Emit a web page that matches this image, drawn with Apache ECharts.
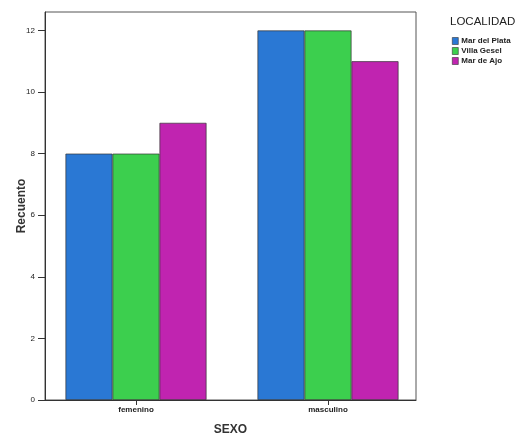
<!DOCTYPE html>
<html><head><meta charset="utf-8">
<script src="https://cdn.jsdelivr.net/npm/echarts@6/dist/echarts.min.js"></script>
<style>html,body{margin:0;padding:0;background:#fff}#c{width:518px;height:437px}</style>
</head><body><div id="c"></div>
<script>
const categories = ['femenino', 'masculino'];
const seriesNames = ['Mar del Plata', 'Villa Gesel', 'Mar de Ajo'];
const marDelPlata = [8, 12];
const villaGesel = [8, 12];
const marDeAjo = [9, 11];
const yTicks = [0, 2, 4, 6, 8, 10, 12];
const colors = ['#2a78d4', '#3ccf4e', '#c024b0'];
const values = [marDelPlata, villaGesel, marDeAjo];

const chart = echarts.init(document.getElementById('c'), null, {renderer: 'canvas'});
const font = 'Liberation Sans, Arial, sans-serif';
chart.setOption({
  animation: false,
  title: {text: 'LOCALIDAD', left: 450, top: 16, padding: 0, textStyle: {fontFamily: font, fontSize: 11.5, fontWeight: 'normal', color: '#222'}},
  legend: {
    orient: 'vertical', left: 452, top: 37, padding: 0, itemWidth: 6, itemHeight: 7, itemGap: 2, icon: 'rect',
    textStyle: {fontFamily: font, fontSize: 8, fontWeight: 'bold', color: '#222', padding: [0,0,0,-2]},
    itemStyle: {borderColor: '#333', borderWidth: 0.6},
    data: seriesNames
  },
  grid: [
    {left: 45, top: 12, right: 102, bottom: 37, show: true, borderColor: '#555', borderWidth: 1, containLabel: false, outerBoundsMode: 'none'},
    {left: 40, top: 12, right: 94, bottom: 37, show: false, containLabel: false, outerBoundsMode: 'none'}
  ],
  xAxis: [
    {
      gridIndex: 0, type: 'value', min: 0, max: 1,
      name: 'SEXO', nameLocation: 'middle', nameGap: 24, nameMoveOverlap: false,
      nameTextStyle: {fontFamily: font, fontSize: 12, fontWeight: 'bold', color: '#333'},
      axisLine: {show: true, onZero: false, lineStyle: {color: '#333'}},
      axisTick: {show: false}, axisLabel: {show: false}, splitLine: {show: false}
    },
    {
      gridIndex: 1, type: 'category', data: categories,
      axisLine: {show: false, onZero: false},
      axisTick: {show: true, alignWithLabel: true, length: 5, lineStyle: {color: '#333'}},
      axisLabel: {fontFamily: font, fontSize: 8, fontWeight: 'bold', color: '#222', margin: 6},
      splitLine: {show: false}
    }
  ],
  yAxis: [
    {
      gridIndex: 0, type: 'value', min: 0, max: 12.6, interval: 2,
      name: 'Recuento', nameLocation: 'middle', nameGap: 17, nameRotate: 90, nameMoveOverlap: false,
      nameTextStyle: {fontFamily: font, fontSize: 12, fontWeight: 'bold', color: '#333'},
      axisLine: {show: true, onZero: false, lineStyle: {color: '#333'}},
      axisTick: {show: true, length: 7, lineStyle: {color: '#333'}},
      axisLabel: {showMaxLabel: false, fontFamily: font, fontSize: 8, color: '#222', margin: 10,
        formatter: v => yTicks.includes(v) ? String(v) : ''},
      splitLine: {show: false}
    },
    {
      gridIndex: 1, type: 'value', min: 0, max: 12.6, show: false, splitLine: {show: false}
    }
  ],
  series: seriesNames.map((n, i) => ({
    name: n, type: 'bar', xAxisIndex: 1, yAxisIndex: 1, barWidth: 47, barGap: '0%',
    itemStyle: {color: colors[i], borderColor: '#333', borderWidth: 0.7},
    data: values[i]
  }))
});
</script></body></html>
